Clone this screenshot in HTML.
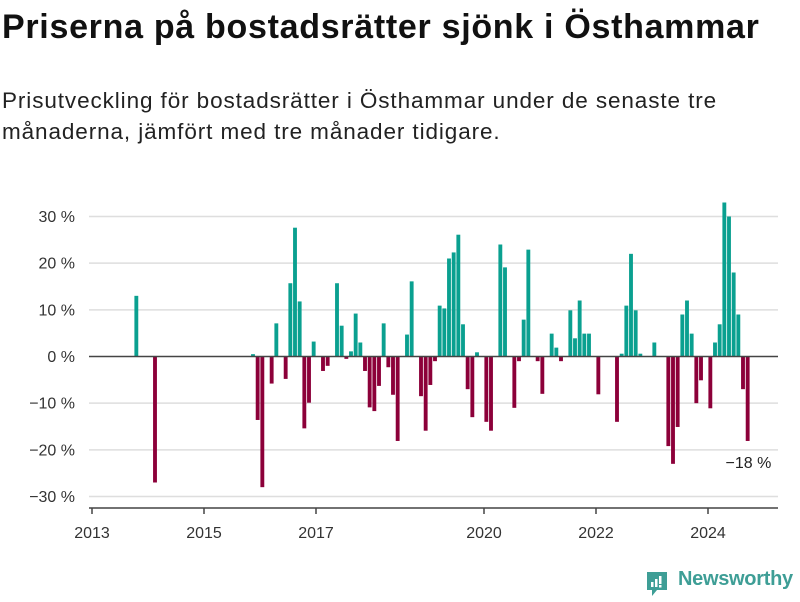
<!DOCTYPE html>
<html><head><meta charset="utf-8">
<style>
html,body{margin:0;padding:0;background:#fff;}
body{width:800px;height:600px;overflow:hidden;position:relative;font-family:"Liberation Sans","DejaVu Sans",sans-serif;color:#111;}
#title{position:absolute;left:2px;top:8px;font-size:34px;font-weight:bold;margin:0;letter-spacing:0.7px;white-space:nowrap;}
#subtitle{position:absolute;left:2px;top:85px;font-size:22.5px;line-height:31px;margin:0;color:#222;letter-spacing:0.9px;white-space:nowrap;}
svg{position:absolute;left:0;top:0;}
</style></head><body>
<h1 id="title">Priserna på bostadsrätter sjönk i Östhammar</h1>
<p id="subtitle">Prisutveckling för bostadsrätter i Östhammar under de senaste tre<br>månaderna, jämfört med tre månader tidigare.</p>
<svg id="chart" width="800" height="600"></svg>
<script>
const months = [9,13,34,35,36,38,39,41,42,43,44,45,46,47,49,50,52,53,54,55,56,57,58,59,60,61,62,63,64,65,67,68,70,71,72,73,74,75,76,77,78,79,80,81,82,84,85,87,88,90,91,92,93,95,96,98,99,100,102,103,104,105,106,108,112,113,114,115,116,117,120,123,124,125,126,127,128,129,130,132,133,134,135,136,137,138,139,140];
const values = [13,-27,0.5,-13.6,-28,-5.8,7.1,-4.8,15.7,27.6,11.8,-15.4,-9.9,3.2,-3.1,-2,15.7,6.6,-0.5,1.1,9.2,3,-3.1,-10.9,-11.7,-6.3,7.1,-2.3,-8.2,-18.1,4.7,16.1,-8.5,-15.9,-6.1,-1,10.9,10.3,21,22.3,26.1,6.9,-7,-13,0.9,-14,-15.9,24,19.1,-11,-1,7.9,22.9,-1,-8,4.9,1.9,-1,9.9,3.9,12,4.9,4.9,-8.1,-14,0.6,10.9,22,9.9,0.6,3,-19.2,-23,-15.1,9,12,4.9,-10,-5.1,-11.1,3,6.9,33,30,18,9,-7,-18.1];
const yTicks = [30,20,10,0,-10,-20,-30];
const yTickLabels = ["30 %","20 %","10 %","0 %","\u221210 %","\u221220 %","\u221230 %"];
const xTicks = [2013,2015,2017,2020,2022,2024];
const lastLabel = "\u221218 %";

const svg = document.getElementById('chart');
const NS = 'http://www.w3.org/2000/svg';
const x0 = 92, monthW = 56/12, plotLeft = 89, plotRight = 778;
const y = v => 356.5 - v * (140/30);
const xm = m => x0 + m * monthW;
const xy = yr => x0 + (yr - 2013) * 56;
function mk(tag, attrs){const e=document.createElementNS(NS,tag);for(const k in attrs)e.setAttribute(k,attrs[k]);svg.appendChild(e);return e;}

yTicks.forEach((t,i)=>{
  if(t!==0){
    const g = mk('line',{x1:plotLeft,x2:plotRight,y1:y(t),y2:y(t),stroke:'#dedede','stroke-width':1.5});
    
    
  }
  const tx = mk('text',{x:75,y:y(t)+5.5,'text-anchor':'end','font-size':16,fill:'#333','font-family':'Liberation Sans, sans-serif'});
  tx.textContent = yTickLabels[i];
  
  
});

months.forEach((m,i)=>{
  const v = values[i];
  const top = v>=0 ? y(v) : y(0);
  const h = Math.max(Math.abs(y(v)-y(0)),0.8);
  const r = mk('rect',{x:xm(m)+0.4,y:top,width:monthW-0.8,height:h,fill:v>=0?'#0aa090':'#8c0039'});
  
  
});

const zl = mk('line',{x1:plotLeft,x2:plotRight,y1:y(0),y2:y(0),stroke:'#444','stroke-width':1.5});



const ax = mk('line',{x1:plotLeft,x2:plotRight,y1:508,y2:508,stroke:'#444','stroke-width':1.5});


xTicks.forEach(yr=>{
  const tk = mk('line',{x1:xy(yr),x2:xy(yr),y1:508,y2:514,stroke:'#444','stroke-width':1.5});
  
  
  const tl = mk('text',{x:xy(yr),y:538,'text-anchor':'middle','font-size':16,fill:'#333','font-family':'Liberation Sans, sans-serif'});
  tl.textContent = yr;
  
  
});

const lm = months[months.length-1], lv = values[values.length-1];
const an = mk('text',{x:xm(lm)+26,y:y(lv)+27,'text-anchor':'end','font-size':16,fill:'#222','font-family':'Liberation Sans, sans-serif'});
an.textContent = lastLabel;


</script>
<div style="position:absolute;left:645px;top:566px;height:32px;">
  <svg width="26" height="32" style="position:absolute;left:0;top:4px;">
    <path d="M2 2 H22 V20 H12 L7 26 V20 H2 Z" fill="#3e9e96"/>
    <rect x="6" y="12" width="2.5" height="5" fill="#fff"/>
    <rect x="10" y="9" width="2.5" height="8" fill="#fff"/>
    <rect x="14" y="6" width="2.5" height="8" fill="#fff"/>
    <rect x="14" y="15" width="2.5" height="2.5" fill="#fff"/>
  </svg>
  <span style="position:absolute;left:33px;top:2px;font-size:20px;font-weight:bold;color:#3e9e96;white-space:nowrap;letter-spacing:-0.3px;">Newsworthy</span>
</div>
</body></html>
